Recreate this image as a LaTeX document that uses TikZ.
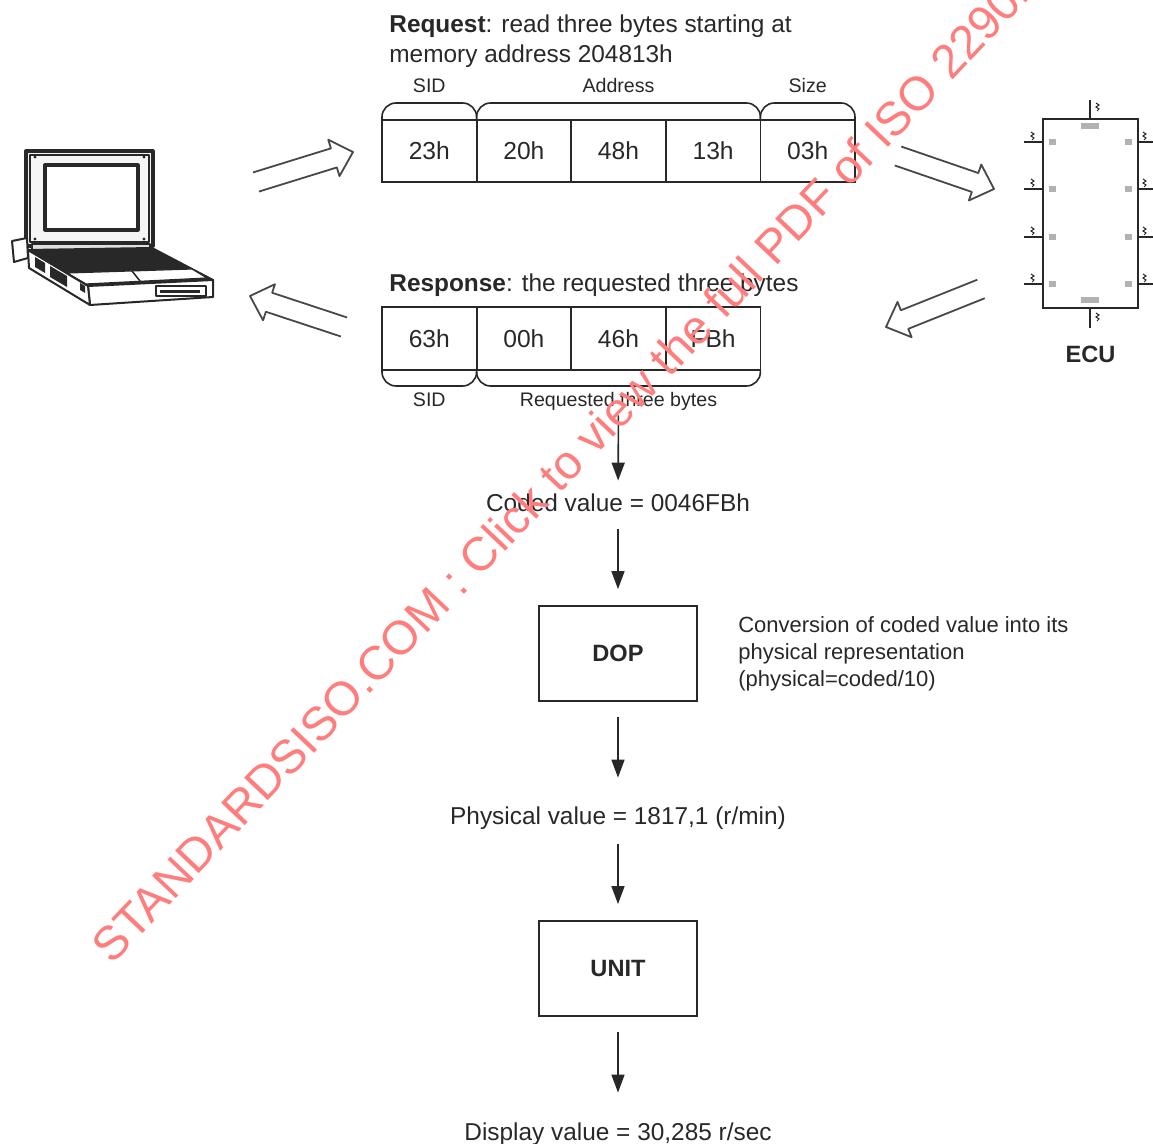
\documentclass[tikz,border=0pt]{standalone}
\usepackage{fontspec}
\setmainfont{Liberation Sans}
\usetikzlibrary{arrows.meta,calc,positioning}

\definecolor{inkgray}{RGB}{40,40,40}
\definecolor{wmred}{RGB}{255,125,125}

\tikzset{
	cell/.style={draw=inkgray, line width=0.9pt, minimum width=47.3pt, minimum height=31pt, inner sep=0pt, outer sep=0pt, font=\fontsize{12.3}{14}\selectfont},
	field/.style={inner sep=0pt, anchor=base, font=\fontsize{9.8}{12}\selectfont},
	brace/.style={draw=inkgray, line width=0.8pt, rounded corners=7pt},
	valtext/.style={inner sep=0pt, anchor=base, text height=9pt, text depth=2.6pt, font=\fontsize{12.2}{15}\selectfont},
	stage/.style={draw=inkgray, line width=0.9pt, minimum width=79pt, minimum height=47.5pt, inner sep=0pt, font=\bfseries\fontsize{11.8}{14}\selectfont},
	note/.style={inner sep=0pt, align=left, font=\fontsize{11}{13.5}\selectfont},
	flow/.style={-{Triangle[length=9pt,width=6.5pt]}, line width=0.8pt},
	bigarrow/.style={draw=inkgray!85, line width=0.9pt, line join=round},
	ecupin/.style={draw=inkgray, line width=0.9pt},
	wm/.style={text=wmred, inner sep=0pt, font=\fontsize{23.7}{26}\selectfont},
}

% open broad arrow from tail #1 to tip #2
\newcommand{\hollowarrow}[2]{%
	\coordinate (ha-h) at ($(#2)!10pt!(#1)$);
	\draw[bigarrow] ($(#1)!5pt!90:(#2)$) -- ($(ha-h)!5pt!90:(#2)$) -- ($(ha-h)!9.5pt!90:(#2)$) -- (#2)
		-- ($(ha-h)!9.5pt!-90:(#2)$) -- ($(ha-h)!5pt!-90:(#2)$) -- ($(#1)!5pt!-90:(#2)$);
}
% tiny pin marks of the ECU
\newcommand{\squig}[2]{\draw[inkgray, line width=0.5pt] (#1,#2) -- ++(3,2) -- ++(-3,2) -- ++(3,2) -- ++(-2,2);}

\begin{document}
\begin{tikzpicture}[x=0.5pt, y=-0.5pt, inkgray]
	\useasboundingbox (0,0) rectangle (1153,1144);
	\clip (0,0) rectangle (1153,1144);

	% laptop
	\begin{scope}[draw=inkgray, line join=round]
		\draw[line width=1.6pt, fill=gray!8] (26,151) rectangle (153,246);
		\draw[line width=0.6pt] (30,155) rectangle (149,242);
		\draw[line width=1.6pt, fill=white] (45,165) rectangle (138,230);
		\fill (86,149) rectangle (96,153);
		\foreach \p in {(35,157),(144,157),(35,239),(144,239)}
			\fill \p circle (0.8pt);
		\draw[line width=0.6pt, fill=gray!25] (32,244) rectangle (150,250);
		\draw[line width=1pt, fill=inkgray] (28,250) -- (152,248) -- (213,280) -- (88,286) -- cycle;
		\draw[line width=0.6pt, fill=white] (67,273) -- (192,269) -- (207,278) -- (86,284) -- cycle;
		\draw[line width=0.8pt] (132,271) -- (140,281);
		\draw[line width=1pt, fill=white] (88,286) -- (213,280) -- (213,297) -- (90,305) -- cycle;
		\draw[line width=0.8pt] (156,286) rectangle (206,296);
		\fill (160,290) rectangle (200,293);
		\draw[line width=1pt, fill=white] (28,250) -- (88,286) -- (90,305) -- (29,268) -- cycle;
		\fill (35,257) -- (45,263) -- (45,273) -- (35,267) -- cycle;
		\fill (50,266) -- (67,276) -- (67,287) -- (50,277) -- cycle;
		\fill (80,283) -- (85,286) -- (85,293) -- (80,290) -- cycle;
		\draw[line width=1pt, fill=white] (12,241) -- (27,238) -- (28,258) -- (14,262) -- cycle;
	\end{scope}

	% request message
	\node[anchor=base west, align=left, inner sep=0pt, font=\fontsize{12.2}{15}\selectfont] (reqtxt) at (389,62.5)
		{\textbf{Request}: read three bytes starting at\\memory address 204813h};
	\foreach \t [count=\i] in {23h,20h,48h,13h,03h}
		\node[cell] (q\i) at ({382+94.6*(\i-0.5)},151) {\t};
	\draw[brace] (q1.north west) -- ++(0,-17) -| (q1.north east);
	\draw[brace] (q2.north west) -- ++(0,-17) -| (q4.north east);
	\draw[brace] (q5.north west) -- ++(0,-17) -| (q5.north east);
	\node[field] (sidq) at ($(q1.north)+(0,-27)$) {SID};
	\node[field] (addr) at ($(q2.north west)!0.5!(q4.north east)+(0,-27)$) {Address};
	\node[field] (size) at ($(q5.north)+(0,-27)$) {Size};

	% response message
	\node[anchor=base west, inner sep=0pt, font=\fontsize{12.2}{15}\selectfont] (resptxt) at (389,291.5)
		{\textbf{Response}: the requested three bytes};
	\foreach \t [count=\i] in {63h,00h,46h,FBh}
		\node[cell, minimum height=31.5pt] (p\i) at ({382+94.6*(\i-0.5)},338.5) {\t};
	\draw[brace] (p1.south west) -- ++(0,16) -| (p1.south east);
	\draw[brace] (p2.south west) -- ++(0,16) -| (p4.south east);
	\node[field] (sidp) at ($(p1.south)+(0,37)$) {SID};
	\node[field] (reqlbl) at ($(p2.south west)!0.5!(p4.south east)+(0,37)$) {Requested three bytes};

	% ECU
	\node[draw=inkgray, line width=1.3pt, minimum width=47.5pt, minimum height=94.5pt, inner sep=0pt] (ecu) at (1090.5,213.5) {};
	\node[below=18pt of ecu, inner sep=0pt, font=\bfseries\fontsize{11.8}{14}\selectfont] (ecutxt) {ECU};
	\draw[ecupin] (1090,100) -- (1090,119);
	\draw[ecupin] (1090,308) -- (1090,328);
	\squig{1096}{103}
	\squig{1096}{313}
	\fill[gray!60] (1081,123) rectangle (1099,129);
	\fill[gray!60] (1081,297) rectangle (1099,303);
	\foreach \y in {142,189,237,284} {
		\draw[ecupin] (1024,\y) -- (1043,\y);
		\draw[ecupin] (1138,\y) -- (1153,\y);
		\squig{1031}{\y-10}
		\squig{1143}{\y-10}
		\fill[gray!60] (1049,\y-3) rectangle (1056,\y+3);
		\fill[gray!60] (1125,\y-3) rectangle (1132,\y+3);
	}

	% broad arrows between tester, messages and ECU
	\coordinate (rq-a) at (256,182);
	\coordinate (rq-b) at (353,152);
	\coordinate (rq-c) at (898,156);
	\coordinate (rq-d) at (994,189);
	\coordinate (rs-a) at (981,289);
	\coordinate (rs-b) at (886,327);
	\coordinate (rs-c) at (344,327);
	\coordinate (rs-d) at (250,296);
	\hollowarrow{rq-a}{rq-b}
	\hollowarrow{rq-c}{rq-d}
	\hollowarrow{rs-a}{rs-b}
	\hollowarrow{rs-c}{rs-d}

	% conversion chain
	\node[valtext] (coded) at (618,512) {Coded value = 0046FBh};
	\node[stage] (dop) at (618,653.5) {DOP};
	\node[note, right=20pt of dop] (conv) {Conversion of coded value into its\\physical representation\\(physical=coded/10)};
	\node[valtext] (phys) at (618,825) {Physical value = 1817,1 (r/min)};
	\node[stage] (unit) at (618,968.5) {UNIT};
	\node[valtext] (disp) at (618,1140) {Display value = 30,285 r/sec};

	\draw[flow, shorten <=2pt, shorten >=6.5pt] (reqlbl) -- (coded);
	\draw[flow, shorten <=5.5pt, shorten >=8pt] (coded) -- (dop);
	\draw[flow, shorten <=7.5pt, shorten >=14.5pt] (dop) -- (phys);
	\draw[flow, shorten <=6.5pt, shorten >=8pt] (phys) -- (unit);
	\draw[flow, shorten <=7.5pt, shorten >=14.5pt] (unit) -- (disp);

	% watermark
	\node[wm, rotate=46.5, anchor=base west] (wmark) at (112,966)
		{STANDARDSISO.COM : Click to view the full PDF of ISO 22901};
\end{tikzpicture}
\end{document}
